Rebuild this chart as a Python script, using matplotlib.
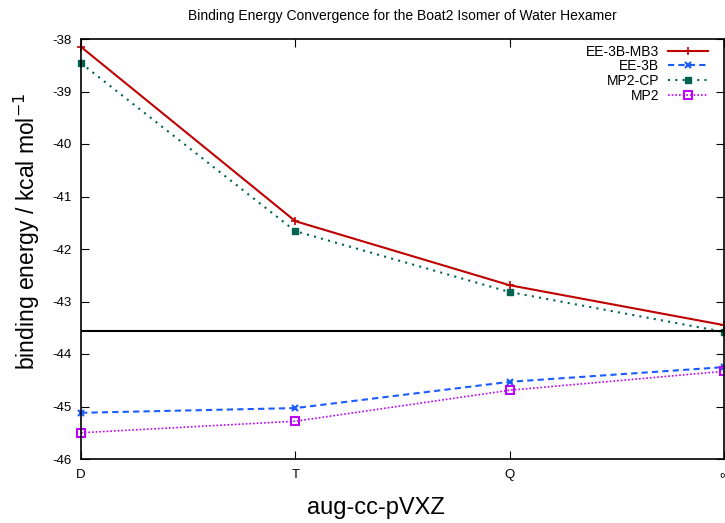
import matplotlib
matplotlib.use("Agg")
import matplotlib.pyplot as plt

plt.rcParams['font.family'] = ['Liberation Sans', 'DejaVu Sans']

bases = ["D", "T", "Q", "∞"]
x = [0, 1, 2, 3]
ee3b_mb3 = [-38.15, -41.47, -42.69, -43.45]
mp2_cp = [-38.46, -41.66, -42.82, -43.58]
ee3b = [-45.12, -45.03, -44.53, -44.25]
mp2 = [-45.50, -45.28, -44.69, -44.33]
reference = -43.56
yticks = [-38, -39, -40, -41, -42, -43, -44, -45, -46]

W, H = 725, 523
fig = plt.figure(figsize=(W/100, H/100), dpi=100)
ax = fig.add_axes([81/W, 1-459/H, (724-81)/W, (459-39)/H])

ax.plot(x, ee3b_mb3, color='#c00000', lw=1.5, marker='+', ms=6, mew=1.2, label='EE-3B-MB3', clip_on=False)
ax.plot(x, ee3b, color='#1a5cff', lw=1.5, ls=(0, (3, 2)), marker='x', ms=5, mew=1.5, label='EE-3B', clip_on=False)
ax.plot(x, mp2_cp, color='#006450', lw=1.5, ls=(0, (1, 2.5)), marker='s', ms=5, label='MP2-CP', clip_on=False)
ax.plot(x, mp2, color='#c000ff', lw=1.2, ls=(0, (1, 1.2)), marker='s', ms=6, mfc='none', mew=1.5, label='MP2', clip_on=False)
ax.axhline(reference, color='black', lw=1.5)

ax.set_xlim(0, 3)
ax.set_ylim(-46, -38)
ax.set_xticks(x)
ax.set_xticklabels(bases)
ax.set_yticks(yticks)
ax.set_yticklabels([str(v) for v in yticks])
ax.tick_params(direction='in', length=6, labelsize=9.5, right=True, top=True, pad=7)
for s in ax.spines.values():
    s.set_linewidth(1.2)

ax.set_title('Binding Energy Convergence for the Boat2 Isomer of Water Hexamer', fontsize=10, pad=14)
fig.text(376/W, 1-508/H, 'aug-cc-pVXZ', fontsize=17, ha='center', va='center')
fig.text(27/W, 1-231/H, 'binding energy / kcal mol$^{-1}$', fontsize=16.5, ha='center', va='center', rotation=90)

leg = ax.legend(loc='upper right', bbox_to_anchor=((713.6-81)/643, 1.0), frameon=False, markerfirst=False,
                fontsize=10, handlelength=2.9, labelspacing=0.05, borderaxespad=0.0, borderpad=0.4,
                handletextpad=0.6)

fig.savefig('out.png', dpi=100)
